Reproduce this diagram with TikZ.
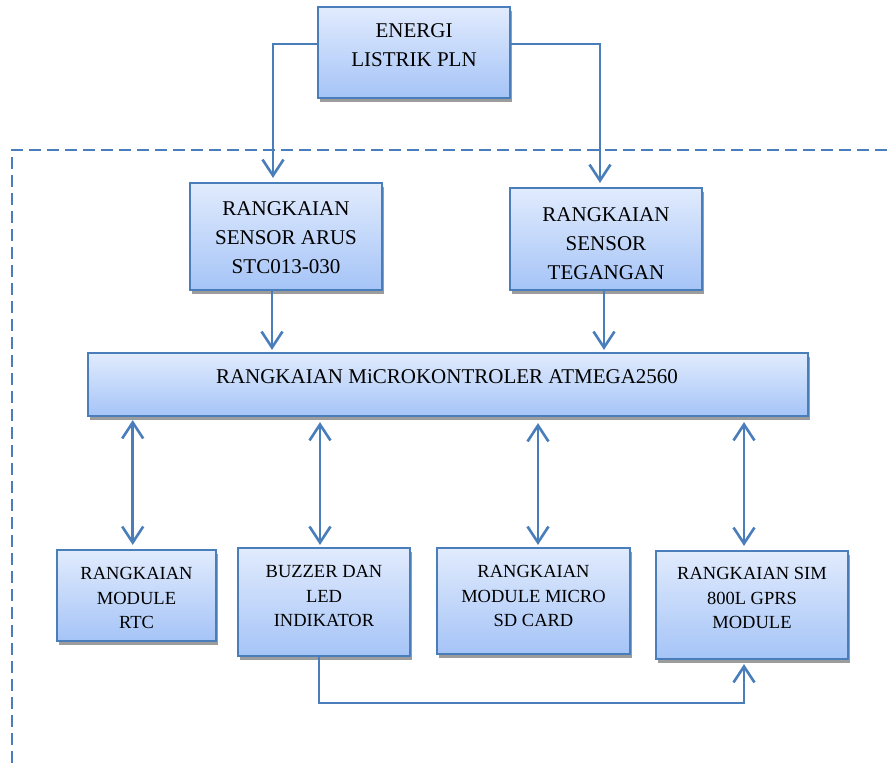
\documentclass[tikz,border=0pt]{standalone}
\usepackage{fontspec}
\setmainfont{Liberation Serif}
\usetikzlibrary{arrows.meta,shadows,calc}
\definecolor{lineblue}{HTML}{4A7EBB}
\definecolor{topfill}{HTML}{E1EBFD}
\definecolor{botfill}{HTML}{A5C4F7}
\definecolor{shadowgray}{HTML}{9C9C9C}
\tikzset{
  blockbox/.style={rectangle, draw=lineblue, line width=2.2pt, inner sep=0pt,
    top color=topfill, bottom color=botfill,
    drop shadow={shadow xshift=1.5pt, shadow yshift=-4pt, fill=shadowgray, opacity=1}},
  bigtext/.style={align=center, inner sep=0pt, font=\fontsize{21}{28.8}\selectfont},
  smalltext/.style={align=center, inner sep=0pt, font=\fontsize{18.5}{24.5}\selectfont},
  conn/.style={draw=lineblue, line width=2.6pt},
  >={Straight Barb[length=16pt,width=21pt]},
}
\begin{document}
\begin{tikzpicture}[x=1pt,y=-1pt]
\useasboundingbox (0,0) rectangle (887,763);
% dashed frame
\draw[lineblue, line width=2.4pt, dash pattern=on 12pt off 6pt] (12,763) -- (12,150) -- (887,150);
% boxes
\node[blockbox, minimum width=192pt, minimum height=91pt] (energi) at (414,52.5) {};
\node[blockbox, minimum width=192pt, minimum height=107pt] (arus) at (286,236.5) {};
\node[blockbox, minimum width=192pt, minimum height=102pt] (teg) at (606,239) {};
\node[blockbox, minimum width=720pt, minimum height=63pt] (micro) at (448,384.5) {};
\node[blockbox, minimum width=159pt, minimum height=91pt] (rtc) at (136.5,595.5) {};
\node[blockbox, minimum width=172pt, minimum height=108pt] (buzzer) at (324,602) {};
\node[blockbox, minimum width=193pt, minimum height=106pt] (sd) at (533.5,601) {};
\node[blockbox, minimum width=192pt, minimum height=108pt] (sim) at (752,605) {};
% texts
\node[bigtext] (energiT) at (414,45.5) {ENERGI\\LISTRIK PLN};
\node[bigtext] (arusT) at (286,237.5) {RANGKAIAN\\SENSOR ARUS\\STC013-030};
\node[bigtext] (tegT) at (606,243.5) {RANGKAIAN\\SENSOR\\TEGANGAN};
\node[bigtext] (microT) at (447,377) {RANGKAIAN MiCROKONTROLER ATMEGA2560};
\node[smalltext] (rtcT) at (136.5,598) {RANGKAIAN\\MODULE\\RTC};
\node[smalltext] (buzzerT) at (324,596) {BUZZER DAN\\LED\\INDIKATOR};
\node[smalltext] (sdT) at (533.5,596) {RANGKAIAN\\MODULE MICRO\\SD CARD};
\node[smalltext] (simT) at (752,598) {RANGKAIAN SIM\\800L GPRS\\MODULE};
% connectors from PLN
\draw[conn,->] ($(energi.west)+(0,-8.5)$) -| ($(arus.north)+(-13,-4)$);
\draw[conn,->] ($(energi.east)+(0,-8.5)$) -| ($(teg.north)+(-6,-4)$);
% sensors to micro
\coordinate (arusS) at ($(arus.south)+(-14,0)$);
\coordinate (tegS) at ($(teg.south)+(-2,0)$);
\draw[conn,->] (arusS) -- ($(arusS |- micro.north)+(0,-2)$);
\draw[conn,->] (tegS) -- ($(tegS |- micro.north)+(0,-2)$);
% bidirectional links
\coordinate (rtcN) at ($(rtc.north)+(-3.8,-4)$);
\coordinate (buzN) at ($(buzzer.north)+(-4,-2)$);
\coordinate (sdN) at ($(sd.north)+(4.5,-2)$);
\coordinate (simN) at ($(sim.north)+(-8,-4)$);
\draw[conn,<->] ($(rtcN |- micro.south)+(0,3)$) -- (rtcN);
\draw[conn,<->] ($(buzN |- micro.south)+(0,5)$) -- (buzN);
\draw[conn,<->] ($(sdN |- micro.south)+(0,6)$) -- (sdN);
\draw[conn,<->] ($(simN |- micro.south)+(0,5)$) -- (simN);
% buzzer to sim
\coordinate (botR) at ($(sim.south)+(-8,43)$);
\draw[conn,->] ($(buzzer.south)+(-5,0)$) |- (botR) -- ($(sim.south)+(-8,4)$);
\end{tikzpicture}
\end{document}
